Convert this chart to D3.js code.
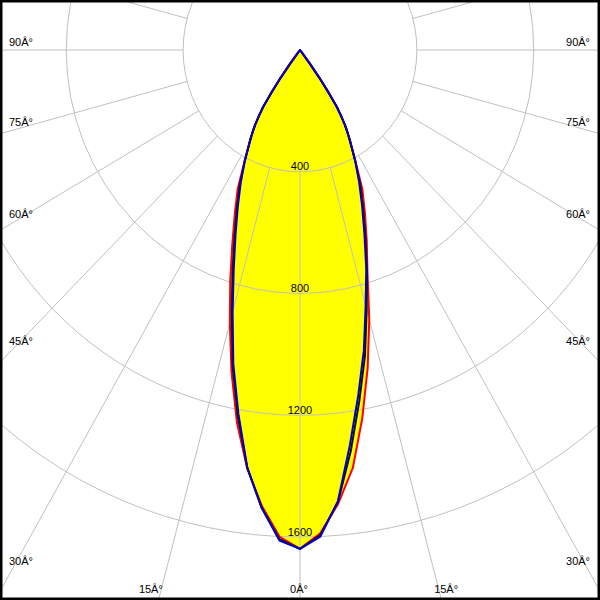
<!DOCTYPE html>
<html>
<head>
<meta charset="utf-8">
<script src="https://cdn.jsdelivr.net/npm/d3@7"></script>
<style>
  html, body { margin: 0; padding: 0; background: #fff; }
  svg { display: block; }
  text { font-family: "Liberation Sans", Arial, sans-serif; font-size: 11px; fill: #000; }
</style>
</head>
<body>
<svg id="chart" width="600" height="600"></svg>
<script>
// ---- data (gamma angles in degrees, intensities in cd) ----
const gammas     = [0, 2.5, 5, 7.5, 10, 12.5, 15, 17.5, 20, 22.5, 25, 27.5, 30, 31, 32, 33, 34, 35, 36, 37, 38, 39, 40];
const redLeft    = [1639, 1601, 1503, 1386, 1243, 1083, 928, 794, 677, 583, 505, 410, 340, 315, 290, 258, 225, 170, 110, 55, 20, 0, 0];
const redRight   = [1639, 1589, 1497, 1385, 1228, 1070, 916, 768, 668, 581, 505, 410, 340, 315, 290, 258, 225, 170, 110, 55, 20, 0, 0];
const blackLeft  = [1639, 1609, 1508, 1384, 1224, 1065, 904, 768, 656, 565, 488, 408, 340, 315, 290, 258, 225, 170, 110, 55, 20, 0, 0];
const blackRight = [1639, 1595, 1491, 1330, 1170, 1028, 882, 762, 655, 565, 488, 408, 340, 315, 290, 258, 225, 170, 110, 55, 20, 0, 0];
const blueLeft   = [1639, 1613, 1510, 1383, 1214, 1055, 891, 754, 645, 556, 479, 408, 340, 315, 290, 258, 225, 170, 110, 55, 20, 0, 0];
const blueRight  = [1639, 1600, 1488, 1309, 1150, 1010, 868, 754, 645, 556, 479, 408, 340, 315, 290, 258, 225, 170, 110, 55, 20, 0, 0];

const ringValues  = [400, 800, 1200, 1600];
const ringLabels  = ["400", "800", "1200", "1600"];
const spokeAngles = d3.range(0, 360, 15);
const angleTicks  = [0, 15, 30, 45, 60, 75, 90];
const angleLabels = ["0Â°", "15Â°", "30Â°", "45Â°", "60Â°", "75Â°", "90Â°"];

// ---- layout ----
const W = 600, H = 600;
const cx = 300, cy = 50;
const xSquash = 0.96;
const r = d3.scaleLinear().domain([0, 1600]).range([0, 487]);
const rad = d => d * Math.PI / 180;

// point at gamma (from downward vertical), side -1 = left, +1 = right
function pt(gamma, value, side) {
  const rr = r(value);
  return [cx + side * rr * Math.sin(rad(gamma)) * xSquash, cy + rr * Math.cos(rad(gamma))];
}

const svg = d3.select("#chart");
svg.append("rect").attr("width", W).attr("height", H).attr("fill", "#fff");

function curvePoints(left, right) {
  const pts = [];
  for (let i = gammas.length - 1; i >= 0; i--) pts.push(pt(gammas[i], left[i], -1));
  for (let i = 1; i < gammas.length; i++) pts.push(pt(gammas[i], right[i], 1));
  return pts;
}
const line = d3.line().curve(d3.curveLinearClosed);

// yellow fill (outermost curve)
svg.append("path").attr("d", line(curvePoints(redLeft, redRight)))
  .attr("fill", "#ffff00").attr("stroke", "none");

// grid
const grid = svg.append("g").attr("fill", "none").attr("stroke", "#c0c0c0").attr("stroke-width", 1);
ringValues.forEach(v => {
  grid.append("ellipse").attr("cx", cx).attr("cy", cy)
    .attr("rx", r(v) * xSquash).attr("ry", r(v));
});
spokeAngles.forEach(a => {
  const p0 = pt(a, ringValues[0], 1);
  const p1 = pt(a, 4000, 1);
  grid.append("line").attr("x1", p0[0]).attr("y1", p0[1]).attr("x2", p1[0]).attr("y2", p1[1]);
});

// curves
[[redLeft, redRight, "#ff0000"], [blackLeft, blackRight, "#111111"], [blueLeft, blueRight, "#0000c8"]]
  .forEach(([L, R, c]) => {
    svg.append("path").attr("d", line(curvePoints(L, R)))
      .attr("fill", "none").attr("stroke", c).attr("stroke-width", 2).attr("stroke-linejoin", "round");
  });

// ring labels
ringValues.forEach((v, i) => {
  svg.append("text").attr("x", cx).attr("y", cy + r(v) - 1.5)
    .attr("text-anchor", "middle").text(ringLabels[i]);
});

// angle labels
angleTicks.forEach((a, i) => {
  const s = Math.sin(rad(a)) * xSquash, c = Math.cos(rad(a));
  if (a >= 30) {
    const t = (cx - 9) / s;
    const y = cy + t * c - (4 + (90 - a) / 10);
    svg.append("text").attr("x", 9).attr("y", y).attr("text-anchor", "start").text(angleLabels[i]);
    svg.append("text").attr("x", W - 10).attr("y", y).attr("text-anchor", "end").text(angleLabels[i]);
  } else {
    const yb = 593;
    const lx = (587 - cy) * (s / c);
    if (a === 0) {
      svg.append("text").attr("x", cx - 1).attr("y", yb).attr("text-anchor", "middle").text(angleLabels[i]);
    } else {
      svg.append("text").attr("x", cx - lx + 1).attr("y", yb).attr("text-anchor", "end").text(angleLabels[i]);
      svg.append("text").attr("x", cx + lx - 4).attr("y", yb).attr("text-anchor", "start").text(angleLabels[i]);
    }
  }
});

// frame
svg.append("rect").attr("x", 0).attr("y", 0).attr("width", W).attr("height", H)
  .attr("fill", "none").attr("stroke", "#000").attr("stroke-width", 5);
</script>
</body>
</html>
